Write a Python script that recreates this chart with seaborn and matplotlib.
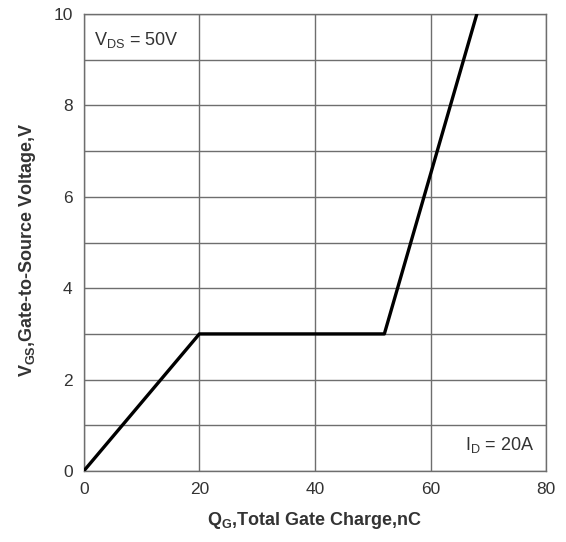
import pandas as pd
import seaborn as sns
import matplotlib.pyplot as plt

# --- DATI ---
carica_qg = [0, 20, 52, 68]        # nC
tensione_vgs = [0, 3, 3, 10]       # V
tick_x = [0, 20, 40, 60, 80]
tick_y = [0, 2, 4, 6, 8, 10]

df = pd.DataFrame({'Qg': carica_qg, 'Vgs': tensione_vgs})

sns.set_style('white')
plt.rcParams['font.family'] = ['Liberation Sans', 'DejaVu Sans']
plt.rcParams['mathtext.fontset'] = 'custom'
plt.rcParams['mathtext.rm'] = 'Liberation Sans'
plt.rcParams['mathtext.bf'] = 'Liberation Sans:bold'

fig, ax = plt.subplots(figsize=(5.66, 5.42), dpi=100)
fig.subplots_adjust(left=0.148, right=0.965, top=0.974, bottom=0.131)

sns.lineplot(data=df, x='Qg', y='Vgs', ax=ax, color='black', linewidth=2.4,
             sort=False, zorder=3)

ax.set_xlim(0, 80)
ax.set_ylim(0, 10)
ax.set_xticks(tick_x)
ax.set_yticks(tick_y)
ax.set_yticks(range(0, 11), minor=True)
ax.grid(True, which='major', color='#6e6e6e', linewidth=1.0)
ax.grid(True, which='minor', axis='y', color='#6e6e6e', linewidth=1.0)
ax.tick_params(which='both', length=0, labelsize=12.5, colors='#333333', pad=8)
for s in ax.spines.values():
    s.set_color('#6e6e6e')
    s.set_linewidth(1.0)

ax.set_xlabel(r'$\mathbf{Q_{G}}$,Total Gate Charge,nC', fontsize=13,
              fontweight='bold', color='#333333', labelpad=9)
ax.set_ylabel(r'$\mathbf{V_{GS}}$,Gate-to-Source Voltage,V', fontsize=13,
              fontweight='bold', color='#333333')
ax.yaxis.set_label_coords(-0.1, 0.484)

ax.text(0.022, 0.965, r'$\mathregular{V_{DS}}$ = 50V', transform=ax.transAxes,
        ha='left', va='top', fontsize=13, color='#333333')
ax.text(0.975, 0.035, r'$\mathregular{I_{D}}$ = 20A', transform=ax.transAxes,
        ha='right', va='bottom', fontsize=13, color='#333333')

plt.savefig('out.png', dpi=100)
